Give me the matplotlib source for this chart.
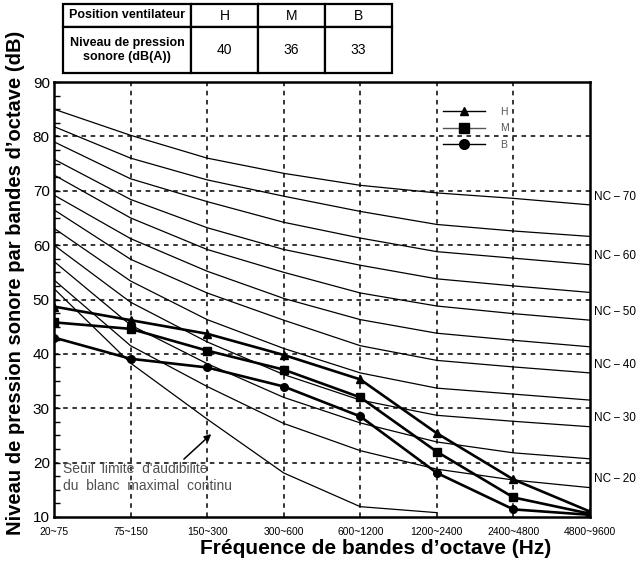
import matplotlib
matplotlib.use("Agg")
import matplotlib.pyplot as plt
from matplotlib.lines import Line2D
from matplotlib.ticker import MultipleLocator

plt.rcParams['font.family'] = ['Liberation Sans', 'DejaVu Sans']

# octave bands (x categories)
bands = ['20~75', '75~150', '150~300', '300~600', '600~1200',
         '1200~2400', '2400~4800', '4800~9600']

# NC curves, one list per curve
nc_names = ['NC-70', 'NC-65', 'NC-60', 'NC-55', 'NC-50', 'NC-45',
            'NC-40', 'NC-35', 'NC-30', 'NC-25', 'NC-20']
nc70 = [85.0, 80.2, 76.0, 73.2, 71.0, 69.6, 68.6, 67.4]
nc65 = [81.8, 76.0, 72.0, 69.0, 66.2, 63.8, 62.6, 61.6]
nc60 = [79.0, 72.2, 68.0, 64.2, 61.3, 58.8, 57.6, 56.4]
nc55 = [75.8, 68.4, 63.2, 59.2, 56.3, 53.8, 52.5, 51.3]
nc50 = [72.9, 65.0, 59.2, 55.0, 51.2, 48.8, 47.4, 46.2]
nc45 = [69.2, 61.2, 55.2, 50.2, 46.3, 43.8, 42.5, 41.3]
nc40 = [66.5, 57.4, 51.2, 46.2, 41.5, 38.8, 37.6, 36.5]
nc35 = [63.1, 53.4, 46.3, 41.0, 36.5, 33.7, 32.6, 31.5]
nc30 = [60.0, 49.5, 42.2, 36.2, 31.5, 28.7, 27.6, 26.6]
nc25 = [57.0, 45.3, 38.2, 32.0, 27.3, 23.8, 21.8, 20.7]
nc20 = [53.6, 41.5, 34.0, 27.2, 22.2, 18.8, 16.8, 15.4]
nc_curves = [nc70, nc65, nc60, nc55, nc50, nc45, nc40, nc35, nc30, nc25, nc20]
nc_labelled = ['NC-70', 'NC-60', 'NC-50', 'NC-40', 'NC-30', 'NC-20']

# threshold of audibility (stops at 1200~2400)
seuil = [52.0, 38.3, 28.0, 18.1, 11.9, 10.8]

# unit measurements
mode_H = [48.7, 46.2, 43.7, 39.8, 35.3, 25.4, 16.9, 11.0]
mode_M = [45.8, 44.6, 40.6, 37.1, 32.0, 22.0, 13.6, 10.6]
mode_B = [43.0, 39.1, 37.5, 34.0, 28.5, 18.1, 11.4, 10.4]

# table values
tab_modes = ['H', 'M', 'B']
tab_levels = ['40', '36', '33']

W, H = 640, 568
fig = plt.figure(figsize=(6.4, 5.68), dpi=100)
ax = fig.add_axes([54/W, 1-517/H, (590-54)/W, (517-82)/H])

xs = list(range(len(bands)))

for name, vals in zip(nc_names, nc_curves):
    ax.plot(xs, vals, color='black', lw=0.9, zorder=2)
    if name in nc_labelled:
        lab = name.replace('-', '\u2009\u2212\u2009')
        ax.annotate(lab, (xs[-1], vals[-1]),
                    xytext=(3, 6), textcoords='offset points',
                    ha='left', va='center', fontsize=8.5, annotation_clip=False)

ax.plot(xs[:len(seuil)], seuil, color='black', lw=0.9, zorder=2)

ax.plot(xs, mode_H, color='black', lw=1.9, marker='^', ms=5.5, zorder=4)
ax.plot(xs, mode_M, color='black', lw=1.9, marker='s', ms=5.5, zorder=4)
ax.plot(xs, mode_B, color='black', lw=1.9, marker='o', ms=5.5, zorder=4)

ax.set_xlim(0, 7)
ax.set_ylim(10, 90)
ax.set_xticks(xs)
ax.set_xticklabels(bands, fontsize=7.5)
ax.tick_params(axis='x', length=0, pad=7)
ax.set_yticks(range(10, 91, 10))
ax.yaxis.set_minor_locator(MultipleLocator(2.5))
ax.tick_params(axis='y', which='both', direction='in', length=4, width=1, labelsize=11, pad=3)
for s in ax.spines.values():
    s.set_linewidth(1.8)

for gx in xs[1:-1]:
    ax.axvline(gx, color='black', lw=1.1, ls=(0, (3, 3)), zorder=1)
for gy in range(20, 90, 10):
    ax.axhline(gy, color='black', lw=1.1, ls=(0, (3, 3)), zorder=1)

ax.text(0.12, 18.8, "Seuil  limite  d'audibilit\u00e9", fontsize=10, color='#505050', va='center')
ax.text(0.12, 15.7, "du  blanc  maximal  continu", fontsize=10, color='#505050', va='center')
ax.annotate('', xy=(2.08, 25.6), xytext=(1.67, 20.3),
            arrowprops=dict(arrowstyle='-|>', color='black', lw=1.1, mutation_scale=10))

handles = [Line2D([], [], color='black', lw=1.0, marker='^', ms=6),
           Line2D([], [], color='#555555', lw=1.0, marker='s', ms=7, mfc='black', mec='black'),
           Line2D([], [], color='black', lw=1.0, marker='o', ms=7)]
ax.legend(handles, tab_modes, loc='upper left', bbox_to_anchor=(443/W, 1-107/H),
          bbox_transform=fig.transFigure, frameon=False, fontsize=7.5,
          labelcolor='#555555', handlelength=4.0, handletextpad=1.5,
          labelspacing=0.6, borderpad=0, borderaxespad=0)

fig.text(16/W, 1-283/H, "Niveau de pression sonore par bandes d\u2019octave (dB)",
         rotation=90, fontsize=14.5, fontweight='bold', ha='center', va='center')
fig.text(376/W, 1-548/H, "Fr\u00e9quence de bandes d\u2019octave (Hz)",
         fontsize=15, fontweight='bold', ha='center', va='center')

# table above the chart
tax = fig.add_axes([63/W, 1-73/H, (392-63)/W, 69/H])
tax.axis('off')
cells = [['Position ventilateur'] + tab_modes,
         ['Niveau de pression\nsonore (dB(A))'] + tab_levels]
widths = [128, 67, 67, 67]
tbl = tax.table(cellText=cells, colWidths=[w/sum(widths) for w in widths],
                bbox=[0, 0, 1, 1], cellLoc='center')
tbl.auto_set_font_size(False)
for (r, c), cell in tbl.get_celld().items():
    cell.set_linewidth(1.6)
    cell.set_height(23/69 if r == 0 else 46/69)
    if c == 0:
        cell.get_text().set_fontsize(9)
        cell.get_text().set_fontweight('bold')
    else:
        cell.get_text().set_fontsize(10)

fig.savefig('out.png', dpi=100)
